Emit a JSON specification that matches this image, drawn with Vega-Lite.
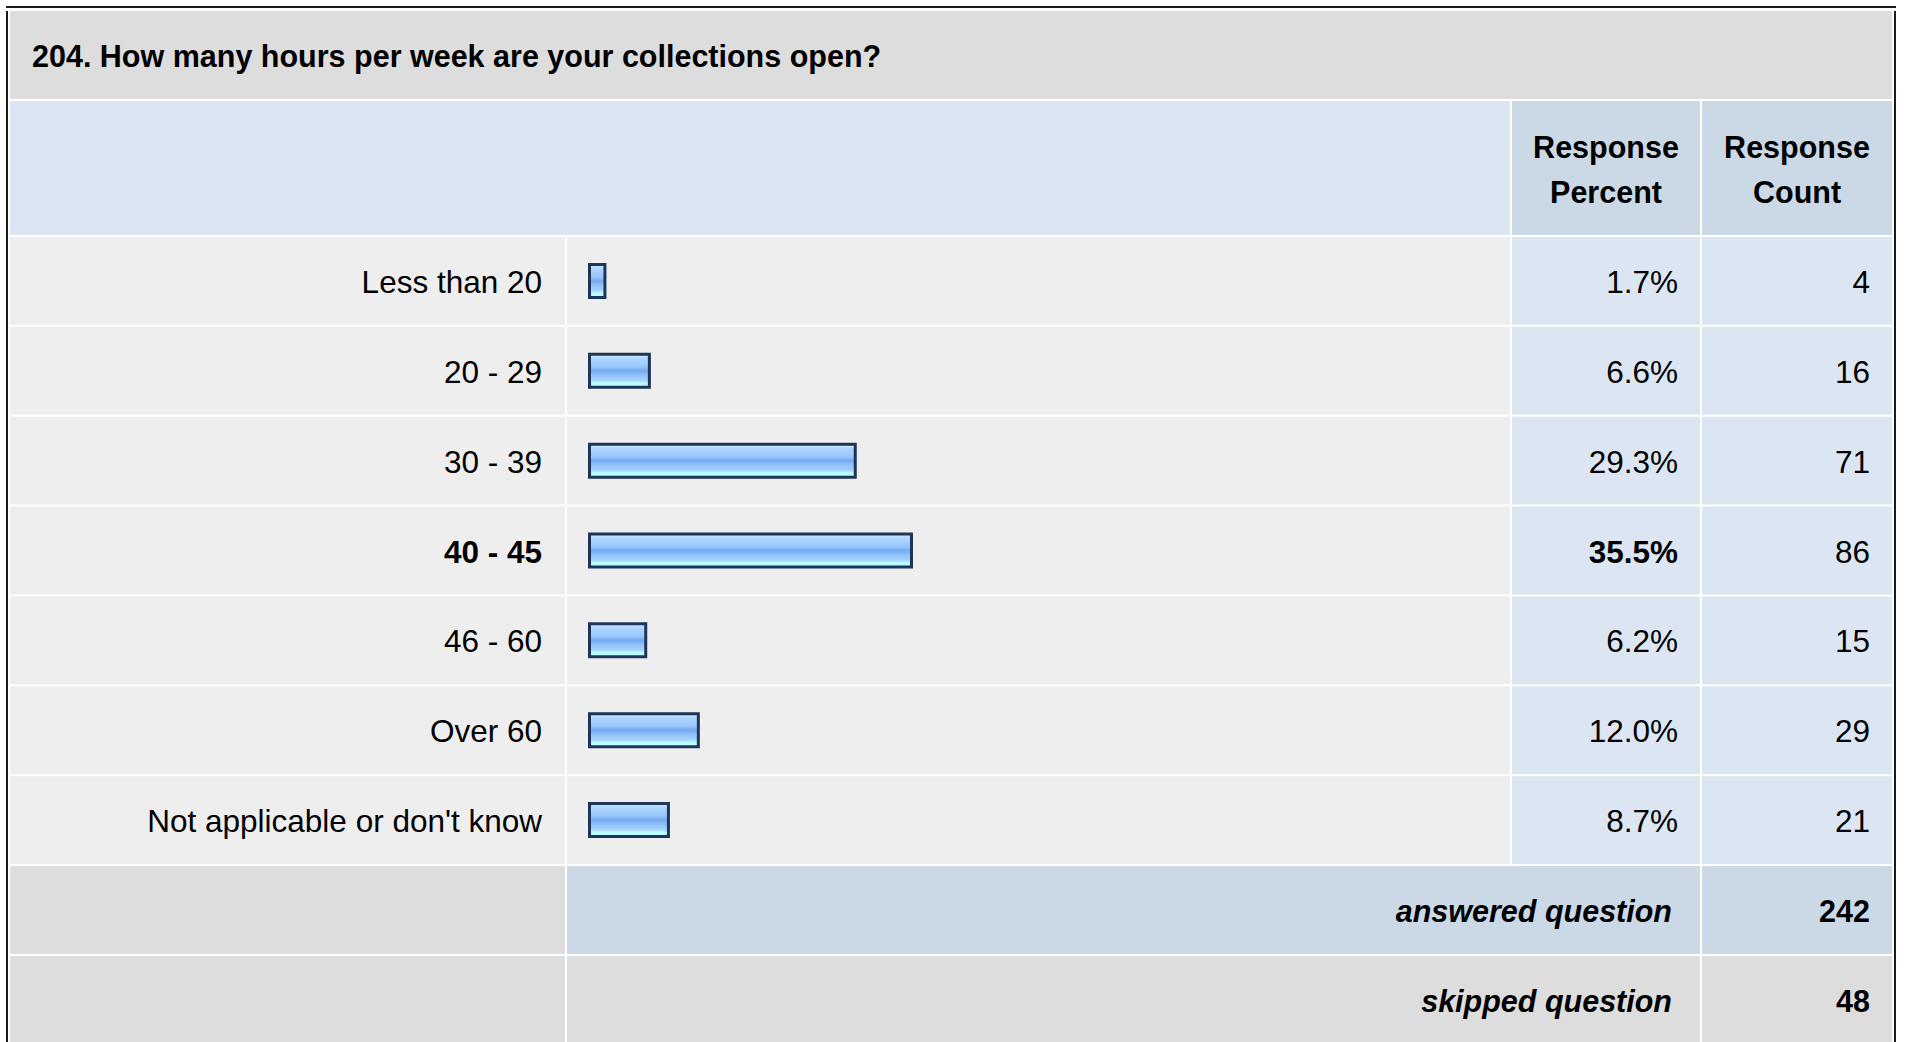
{
  "$schema": "https://vega.github.io/schema/vega-lite/v6.json",
  "padding": {"left": 6, "top": 6, "right": 0, "bottom": 0},
  "background": "white",
  "config": {
    "view": {"stroke": null},
    "text": {"font": "Liberation Sans", "fontSize": 31.5, "color": "#000000"}
  },
  "datasets": {
    "rows": [
      {"answer": "Less than 20", "share": 0.017, "count": 4},
      {"answer": "20 - 29", "share": 0.066, "count": 16},
      {"answer": "30 - 39", "share": 0.293, "count": 71},
      {"answer": "40 - 45", "share": 0.355, "count": 86},
      {"answer": "46 - 60", "share": 0.062, "count": 15},
      {"answer": "Over 60", "share": 0.12, "count": 29},
      {"answer": "Not applicable or don't know", "share": 0.087, "count": 21}
    ],
    "totals": [
      {"label": "answered question", "value": 242},
      {"label": "skipped question", "value": 48}
    ],
    "question": [{"text": "204. How many hours per week are your collections open?"}],
    "headPercent": [{"text": "Response\nPercent"}],
    "headCount": [{"text": "Response\nCount"}],
    "blank": [{"text": ""}]
  },
  "spacing": 3,
  "vconcat": [
    {
      "width": 1890, "height": 2,
      "data": {"name": "blank"},
      "mark": {"type": "rect", "color": "#1a1a1a"},
      "encoding": {}
    },
    {
      "spacing": 2,
      "hconcat": [
        {
          "width": 2, "height": 1033,
          "data": {"name": "blank"},
          "mark": {"type": "rect", "color": "#1a1a1a"},
          "encoding": {}
        },
        {
          "spacing": 2,
          "vconcat": [
            {
              "width": 1882, "height": 88,
              "view": {"fill": "#dddddd"},
              "data": {"name": "question"},
              "mark": {"type": "text", "align": "left", "baseline": "middle", "dx": 22, "dy": 3, "fontWeight": "bold", "fontSize": 30.5},
              "encoding": {
                "x": {"datum": 0, "type": "quantitative", "scale": {"domain": [0, 1]}, "axis": null},
                "text": {"field": "text"}
              }
            },
            {
              "spacing": 2,
              "hconcat": [
                {
                  "width": 1500, "height": 134,
                  "data": {"name": "blank"},
                  "mark": {"type": "rect", "color": "#dce6f3"},
                  "encoding": {}
                },
                {
                  "width": 188, "height": 134,
                  "view": {"fill": "#cbd8e6"},
                  "data": {"name": "headPercent"},
                  "mark": {"type": "text", "align": "center", "baseline": "middle", "lineBreak": "\n", "lineHeight": 45, "dy": -19, "fontWeight": "bold", "fontSize": 30.5},
                  "encoding": {"text": {"field": "text"}}
                },
                {
                  "width": 190, "height": 134,
                  "view": {"fill": "#cbd8e6"},
                  "data": {"name": "headCount"},
                  "mark": {"type": "text", "align": "center", "baseline": "middle", "lineBreak": "\n", "lineHeight": 45, "dy": -19, "fontWeight": "bold", "fontSize": 30.5},
                  "encoding": {"text": {"field": "text"}}
                }
              ]
            },
            {
              "spacing": 2,
              "hconcat": [
                {
                  "width": 555, "height": 627,
                  "data": {"name": "rows"},
                  "transform": [{"joinaggregate": [{"op": "max", "field": "share", "as": "maxShare"}]}],
                  "encoding": {
                    "y": {"field": "answer", "type": "nominal", "axis": null,
                      "scale": {"domain": ["Less than 20", "20 - 29", "30 - 39", "40 - 45", "46 - 60", "Over 60", "Not applicable or don't know"], "paddingInner": 0.02226, "paddingOuter": 0}}
                  },
                  "layer": [
                    {"mark": {"type": "rect", "color": "#eeeeee"}},
                    {
                      "transform": [{"filter": "datum.share < datum.maxShare"}],
                      "mark": {"type": "text", "align": "right", "baseline": "middle", "dx": -23, "dy": 3},
                      "encoding": {
                        "x": {"datum": 1, "type": "quantitative", "scale": {"domain": [0, 1]}, "axis": null},
                        "text": {"field": "answer"}
                      }
                    },
                    {
                      "transform": [{"filter": "datum.share === datum.maxShare"}],
                      "mark": {"type": "text", "align": "right", "baseline": "middle", "dx": -23, "dy": 3, "fontWeight": "bold"},
                      "encoding": {
                        "x": {"datum": 1, "type": "quantitative", "scale": {"domain": [0, 1]}, "axis": null},
                        "text": {"field": "answer"}
                      }
                    }
                  ]
                },
                {
                  "width": 943, "height": 627,
                  "data": {"name": "rows"},
                  "encoding": {
                    "y": {"field": "answer", "type": "nominal", "axis": null,
                      "scale": {"domain": ["Less than 20", "20 - 29", "30 - 39", "40 - 45", "46 - 60", "Over 60", "Not applicable or don't know"], "paddingInner": 0.02226, "paddingOuter": 0}}
                  },
                  "layer": [
                    {"mark": {"type": "rect", "color": "#eeeeee"}},
                    {
                      "mark": {
                        "type": "bar", "height": 33, "stroke": "#1c3558", "strokeWidth": 3,
                        "fill": {
                          "gradient": "linear", "x1": 0, "y1": 0, "x2": 0, "y2": 1,
                          "stops": [
                            {"offset": 0, "color": "#d2eaff"},
                            {"offset": 0.15, "color": "#acd4ff"},
                            {"offset": 0.38, "color": "#98c6fb"},
                            {"offset": 0.5, "color": "#74aaf0"},
                            {"offset": 0.62, "color": "#8ebff8"},
                            {"offset": 0.8, "color": "#a8d4ff"},
                            {"offset": 0.86, "color": "#b8fcff"},
                            {"offset": 1, "color": "#b8ffff"}
                          ]
                        }
                      },
                      "encoding": {
                        "x": {"field": "share", "type": "quantitative", "scale": {"domain": [-0.02481, 1.01488], "nice": false, "zero": false}, "axis": null}
                      }
                    }
                  ]
                },
                {
                  "width": 188, "height": 627,
                  "data": {"name": "rows"},
                  "transform": [{"joinaggregate": [{"op": "max", "field": "share", "as": "maxShare"}]}],
                  "encoding": {
                    "y": {"field": "answer", "type": "nominal", "axis": null,
                      "scale": {"domain": ["Less than 20", "20 - 29", "30 - 39", "40 - 45", "46 - 60", "Over 60", "Not applicable or don't know"], "paddingInner": 0.02226, "paddingOuter": 0}}
                  },
                  "layer": [
                    {"mark": {"type": "rect", "color": "#dce6f3"}},
                    {
                      "transform": [{"filter": "datum.share < datum.maxShare"}],
                      "mark": {"type": "text", "align": "right", "baseline": "middle", "dx": -22, "dy": 3},
                      "encoding": {
                        "x": {"datum": 1, "type": "quantitative", "scale": {"domain": [0, 1]}, "axis": null},
                        "text": {"field": "share", "type": "quantitative", "format": ".1%"}
                      }
                    },
                    {
                      "transform": [{"filter": "datum.share === datum.maxShare"}],
                      "mark": {"type": "text", "align": "right", "baseline": "middle", "dx": -22, "dy": 3, "fontWeight": "bold"},
                      "encoding": {
                        "x": {"datum": 1, "type": "quantitative", "scale": {"domain": [0, 1]}, "axis": null},
                        "text": {"field": "share", "type": "quantitative", "format": ".1%"}
                      }
                    }
                  ]
                },
                {
                  "width": 190, "height": 627,
                  "data": {"name": "rows"},
                  "encoding": {
                    "y": {"field": "answer", "type": "nominal", "axis": null,
                      "scale": {"domain": ["Less than 20", "20 - 29", "30 - 39", "40 - 45", "46 - 60", "Over 60", "Not applicable or don't know"], "paddingInner": 0.02226, "paddingOuter": 0}}
                  },
                  "layer": [
                    {"mark": {"type": "rect", "color": "#dce6f3"}},
                    {
                      "mark": {"type": "text", "align": "right", "baseline": "middle", "dx": -22, "dy": 3},
                      "encoding": {
                        "x": {"datum": 1, "type": "quantitative", "scale": {"domain": [0, 1]}, "axis": null},
                        "text": {"field": "count", "type": "quantitative"}
                      }
                    }
                  ]
                }
              ]
            },
            {
              "spacing": 2,
              "hconcat": [
                {
                  "width": 555, "height": 178,
                  "data": {"name": "totals"},
                  "mark": {"type": "rect", "color": "#dddddd"},
                  "encoding": {
                    "y": {"field": "label", "type": "nominal", "sort": null, "axis": null, "scale": {"paddingInner": 0.0222, "paddingOuter": 0}}
                  }
                },
                {
                  "width": 1133, "height": 178,
                  "data": {"name": "totals"},
                  "encoding": {
                    "y": {"field": "label", "type": "nominal", "sort": null, "axis": null, "scale": {"paddingInner": 0.0222, "paddingOuter": 0}}
                  },
                  "layer": [
                    {
                      "mark": "rect",
                      "encoding": {
                        "color": {"field": "label", "type": "nominal", "scale": {"domain": ["answered question", "skipped question"], "range": ["#cbd8e6", "#dddddd"]}, "legend": null}
                      }
                    },
                    {
                      "mark": {"type": "text", "align": "right", "baseline": "middle", "dx": -28, "dy": 3, "fontWeight": "bold", "fontStyle": "italic", "fontSize": 30.5},
                      "encoding": {
                        "x": {"datum": 1, "type": "quantitative", "scale": {"domain": [0, 1]}, "axis": null},
                        "text": {"field": "label"}
                      }
                    }
                  ]
                },
                {
                  "width": 190, "height": 178,
                  "data": {"name": "totals"},
                  "encoding": {
                    "y": {"field": "label", "type": "nominal", "sort": null, "axis": null, "scale": {"paddingInner": 0.0222, "paddingOuter": 0}}
                  },
                  "layer": [
                    {
                      "mark": "rect",
                      "encoding": {
                        "color": {"field": "label", "type": "nominal", "scale": {"domain": ["answered question", "skipped question"], "range": ["#cbd8e6", "#dddddd"]}, "legend": null}
                      }
                    },
                    {
                      "mark": {"type": "text", "align": "right", "baseline": "middle", "dx": -22, "dy": 3, "fontWeight": "bold", "fontSize": 30.5},
                      "encoding": {
                        "x": {"datum": 1, "type": "quantitative", "scale": {"domain": [0, 1]}, "axis": null},
                        "text": {"field": "value", "type": "quantitative"}
                      }
                    }
                  ]
                }
              ]
            }
          ]
        },
        {
          "width": 2, "height": 1033,
          "data": {"name": "blank"},
          "mark": {"type": "rect", "color": "#1a1a1a"},
          "encoding": {}
        }
      ]
    }
  ]
}
